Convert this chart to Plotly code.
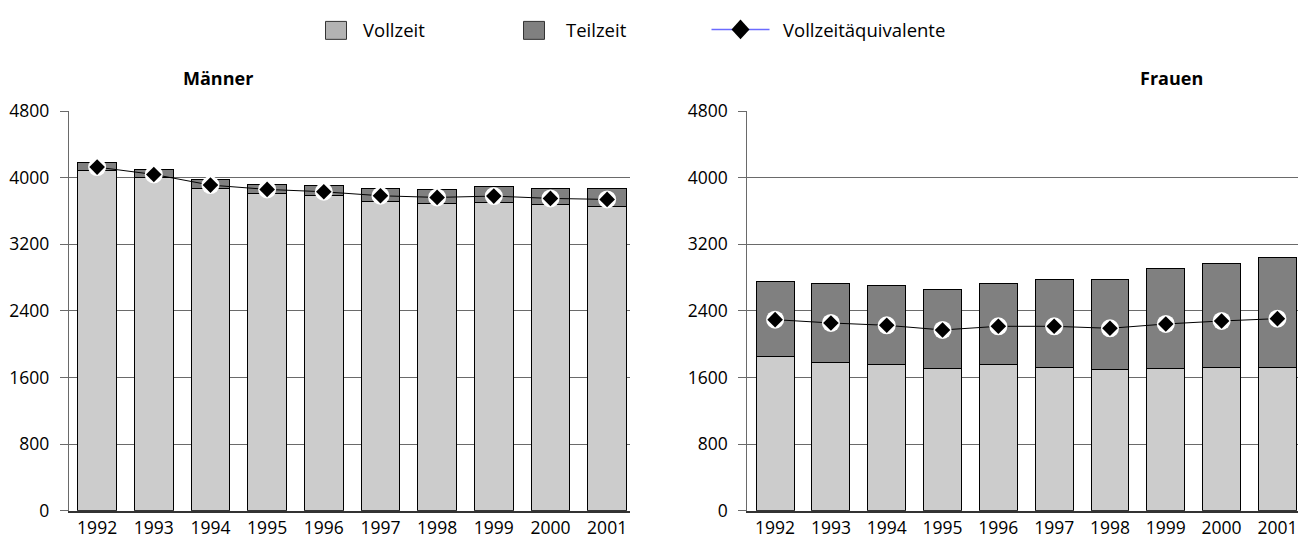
import plotly.graph_objects as go

years = ["1992", "1993", "1994", "1995", "1996", "1997", "1998", "1999", "2000", "2001"]

maenner_vollzeit = [4088, 4000, 3872, 3812, 3784, 3716, 3692, 3704, 3676, 3656]
maenner_teilzeit = [92, 100, 108, 108, 124, 156, 168, 196, 196, 212]
maenner_vzae = [4128, 4040, 3912, 3860, 3832, 3784, 3764, 3780, 3752, 3740]

frauen_vollzeit = [1852, 1784, 1756, 1708, 1756, 1724, 1696, 1704, 1724, 1720]
frauen_teilzeit = [904, 948, 952, 952, 980, 1060, 1084, 1208, 1252, 1320]
frauen_vzae = [2296, 2256, 2228, 2172, 2216, 2216, 2192, 2244, 2280, 2308]

y_ticks = [0, 800, 1600, 2400, 3200, 4000, 4800]

FONT = "Open Sans"
W, H = 1307, 539
C_VZ = "#cccccc"
C_TZ = "#808080"
BAR_W = 0.68
xs = list(range(len(years)))


def px(x):
    # target screen x -> paper fraction
    return (x - 7.5) / W


def py(y):
    # target screen y -> paper fraction (empirical page offset / scale)
    fy = (y - 19.6) / 0.958
    return 1 - fy / H


fig = go.Figure()


def add_panel(vz, tz, vzae, xa, ya):
    fig.add_trace(go.Bar(x=xs, y=vz, width=BAR_W, marker=dict(color=C_VZ, line=dict(color="#000000", width=1)),
                         xaxis=xa, yaxis=ya, showlegend=False, name="Vollzeit"))
    fig.add_trace(go.Bar(x=xs, y=tz, width=BAR_W, marker=dict(color=C_TZ, line=dict(color="#000000", width=1)),
                         xaxis=xa, yaxis=ya, showlegend=False, name="Teilzeit"))
    fig.add_trace(go.Scatter(x=xs, y=vzae, mode="lines+markers", line=dict(color="#000000", width=1),
                             marker=dict(symbol="circle", size=18, color="#ffffff"),
                             xaxis=xa, yaxis=ya, showlegend=False, name="Vollzeitäquivalente"))
    fig.add_trace(go.Scatter(x=xs, y=vzae, mode="markers",
                             marker=dict(symbol="diamond", size=12, color="#000000"),
                             xaxis=xa, yaxis=ya, showlegend=False, name="Vollzeitäquivalente"))


add_panel(maenner_vollzeit, maenner_teilzeit, maenner_vzae, "x", "y")
add_panel(frauen_vollzeit, frauen_teilzeit, frauen_vzae, "x2", "y2")

xaxis_common = dict(tickmode="array", tickvals=xs, ticktext=years, showgrid=False, zeroline=False,
                    showline=True, linecolor="#333333", linewidth=1.5, ticks="",
                    tickfont=dict(family=FONT, size=17.5, color="#000000"), fixedrange=True)
yaxis_common = dict(range=[0, 4800], tickmode="array", tickvals=y_ticks, showgrid=True, gridcolor="#6a6a6a",
                    gridwidth=1.3, zeroline=False, showline=True, linecolor="#6a6a6a", linewidth=1,
                    ticks="outside", ticklen=8, tickcolor="#6a6a6a", ticklabelstandoff=7,
                    tickfont=dict(family=FONT, size=17.5, color="#000000"), domain=[py(510.7), py(110)])

fig.update_layout(
    width=W, height=H,
    margin=dict(l=0, r=0, t=0, b=0),
    paper_bgcolor="#ffffff", plot_bgcolor="#ffffff",
    barmode="stack", showlegend=False,
    xaxis=dict(xaxis_common, domain=[px(68.3), px(629.3)], range=[-0.5, 9.4], anchor="y"),
    yaxis=dict(yaxis_common, anchor="x"),
    xaxis2=dict(xaxis_common, domain=[px(746.7), px(1297)], range=[-0.5, 9.36], anchor="y2"),
    yaxis2=dict(yaxis_common, anchor="x2"),
    font=dict(family=FONT, size=17, color="#000000"),
)

# panel titles
fig.add_annotation(text="<b>Männer</b>", x=px(218), y=py(77), xref="paper", yref="paper",
                   xanchor="center", yanchor="middle",
                   showarrow=False, font=dict(family=FONT, size=18, color="#000000"))
fig.add_annotation(text="<b>Frauen</b>", x=px(1171), y=py(77), xref="paper", yref="paper",
                   xanchor="center", yanchor="middle",
                   showarrow=False, font=dict(family=FONT, size=18, color="#000000"))

# custom legend
ly = 28
LF = dict(family=FONT, size=18.5, color="#000000")
b0, b1 = 20, 38
fig.add_shape(type="rect", xref="paper", yref="paper", x0=px(325), x1=px(346), y0=py(b0), y1=py(b1),
              fillcolor="#b3b3b3", line=dict(color="#333333", width=1))
fig.add_annotation(text="Vollzeit", x=px(360), y=py(ly), xref="paper", yref="paper", xanchor="left",
                   yanchor="middle", showarrow=False, font=LF)
fig.add_shape(type="rect", xref="paper", yref="paper", x0=px(523), x1=px(544), y0=py(b0), y1=py(b1),
              fillcolor="#808080", line=dict(color="#333333", width=1))
fig.add_annotation(text="Teilzeit", x=px(563), y=py(ly), xref="paper", yref="paper", xanchor="left",
                   yanchor="middle", showarrow=False, font=LF)
fig.add_shape(type="line", xref="paper", yref="paper", x0=px(711), x1=px(769), y0=py(ly), y1=py(ly),
              line=dict(color="#6b6bff", width=1.5))
cx, cy, dx, dy = 740, ly, 9, 10
fig.add_shape(type="path", xref="paper", yref="paper",
              path=(f"M {px(cx)} {py(cy - dy)} L {px(cx + dx)} {py(cy)} "
                    f"L {px(cx)} {py(cy + dy)} L {px(cx - dx)} {py(cy)} Z"),
              fillcolor="#000000", line=dict(color="#000000", width=0))
fig.add_annotation(text="Vollzeitäquivalente", x=px(780), y=py(ly), xref="paper", yref="paper", xanchor="left",
                   yanchor="middle", showarrow=False, font=LF)

fig.write_html("out.html")
